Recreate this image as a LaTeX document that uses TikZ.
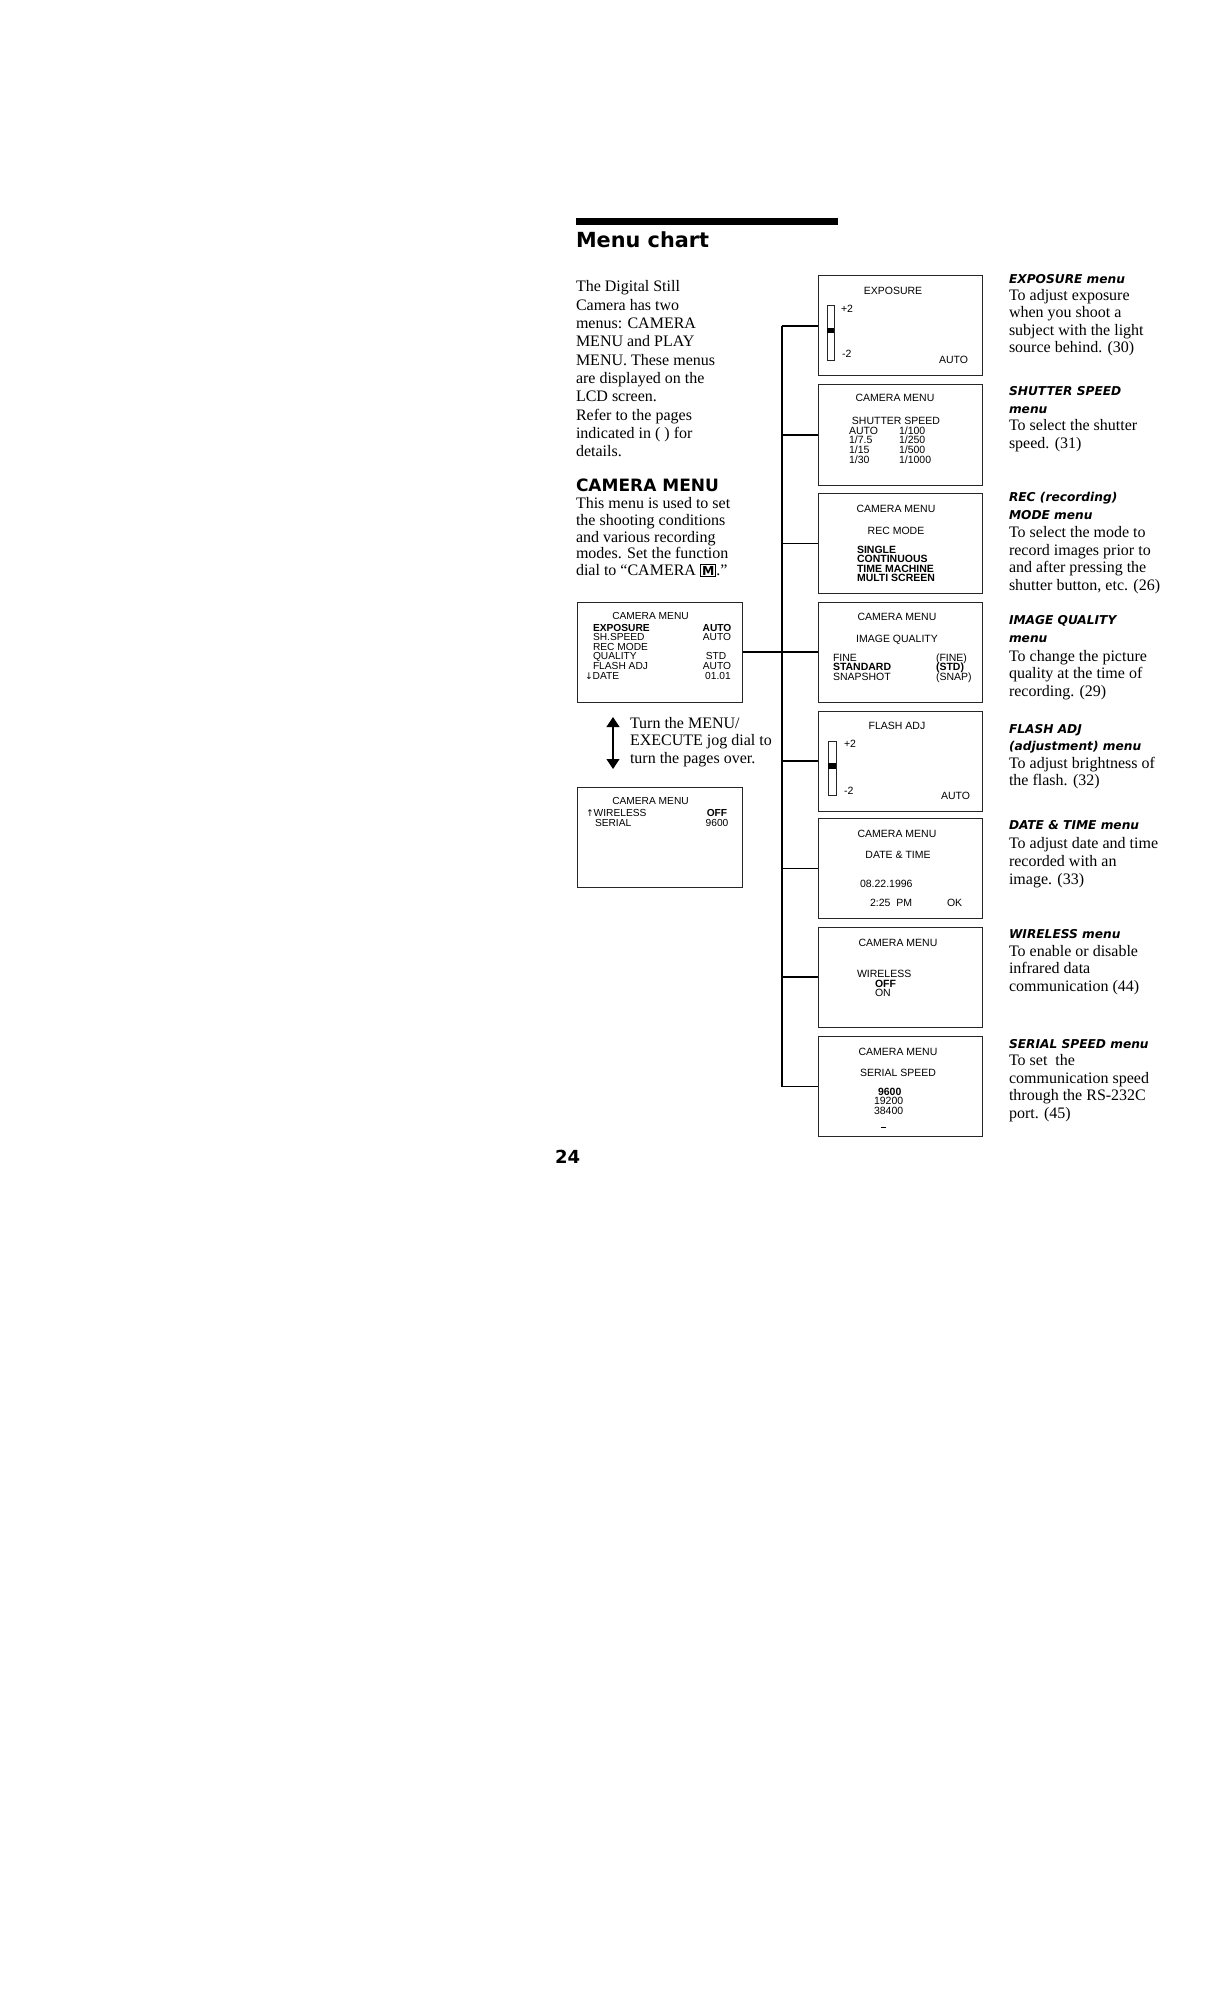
\documentclass[tikz,border=0pt]{standalone}
\usepackage{fontspec}
\setmainfont{Liberation Serif}
\setsansfont{Liberation Sans}
\newfontfamily\hdfont{DejaVu Sans}
\usetikzlibrary{arrows.meta}
\newcommand\scrfont{\sffamily\fontsize{5.25}{6}\selectfont}
\newcommand\scrfontL{\sffamily\fontsize{5.1}{6}\selectfont}
\newcommand\bodyfont{\rmfamily\fontsize{8}{9}\selectfont}
\newcommand\rhfont{\hdfont\bfseries\itshape\fontsize{6.1}{7}\selectfont}
\tikzset{
  tx/.style={inner sep=0pt, outer sep=0pt, anchor=base west},
  tc/.style={inner sep=0pt, outer sep=0pt, anchor=base},
  te/.style={inner sep=0pt, outer sep=0pt, anchor=base east},
  body/.style={tx, font=\bodyfont},
  rhead/.style={tx, font=\rhfont},
  scrR/.style={font=\scrfont},
  scrL/.style={font=\scrfontL},
  screenR/.style={draw=black!85, line width=0.5pt, minimum width=82pt, minimum height=50pt, inner sep=0pt},
  screenL/.style={draw=black!85, line width=0.5pt, minimum width=82.5pt, minimum height=50pt, inner sep=0pt},
  tree/.style={line width=0.7pt, draw=black},
  slider/.style={draw=black!85, line width=0.45pt},
}
\begin{document}
\begin{tikzpicture}[x=0.5pt,y=-0.5pt]
\path[fill=white] (0,0) rectangle (1224,2016);
\useasboundingbox (0,0) rectangle (1224,2016);

% title
\fill[black] (576,218) rectangle (838,225);
\node[tx, font=\hdfont\bfseries\fontsize{10.4}{12}\selectfont] (title) at (576,248) {Menu chart};

% intro
\foreach \t [count=\i from 0] in {{The Digital Still},{Camera has two},{menus: CAMERA},{MENU and PLAY},{MENU. These menus},{are displayed on the},{LCD screen.},{Refer to the pages},{indicated in ( ) for},{details.}}
  \node[body] (intro\i) at (576,292+\i*18.3) {\t};

% camera menu heading
\node[tx, font=\hdfont\bfseries\fontsize{8.5}{10}\selectfont] (cmhead) at (576,491) {CAMERA MENU};
\foreach \t [count=\i from 0] in {{This menu is used to set},{the shooting conditions},{and various recording},{modes. Set the function}}
  \node[body] (cmp\i) at (576,509+\i*16.5) {\t};
\node[body] (cmp4) at (576,575) {dial to ``CAMERA \mbox{\fboxsep=0.5pt\fboxrule=0.5pt\fbox{\hdfont\bfseries\fontsize{6.2}{7}\selectfont M}}.''};

% left screen 1
\node[screenL] (lb1) at (659.5,652) {};
\node[tc, scrL] (lb1t) at (650.5,619.3) {CAMERA MENU};
\node[tx, scrL] (lb1a) at (593,631) {\bfseries EXPOSURE};
\node[tx, scrL] (lb1b) at (593,640.6) {SH.SPEED};
\node[tx, scrL] (lb1c) at (593,650.2) {REC MODE};
\node[tx, scrL] (lb1d) at (593,659.8) {QUALITY};
\node[tx, scrL] (lb1e) at (593,669.4) {FLASH ADJ};
\node[tx, scrL] (lb1f) at (585,679) {{\hdfont\fontsize{4.6}{6}\selectfont ↓}DATE};
\node[tc, scrL] (lb1va) at (717,631) {\bfseries AUTO};
\node[tc, scrL] (lb1vb) at (717,640.6) {AUTO};
\node[tc, scrL] (lb1vd) at (716,659.8) {STD};
\node[tc, scrL] (lb1ve) at (717,669.4) {AUTO};
\node[tc, scrL] (lb1vf) at (718,679) {01.01};

% page-turn arrow
\coordinate (arT) at (613,717);
\coordinate (arB) at (613,769);
\draw[line width=0.6pt, {Triangle[width=6.5pt,length=5pt]}-{Triangle[width=6.5pt,length=5pt]}] (arT) -- (arB);
\node[body] (turn0) at (630,728) {Turn the MENU/};
\node[body] (turn1) at (630,745.5) {EXECUTE jog dial to};
\node[body] (turn2) at (630,763) {turn the pages over.};

% left screen 2
\node[screenL] (lb2) at (659.5,837) {};
\node[tc, scrL] (lb2t) at (650.5,804) {CAMERA MENU};
\node[tx, scrL] (lb2a) at (586,816.7) {{\hdfont\fontsize{4.6}{6}\selectfont ↑}WIRELESS};
\node[tx, scrL] (lb2b) at (595,826.3) {SERIAL};
\node[tc, scrL] (lb2va) at (717,816.7) {\bfseries OFF};
\node[tc, scrL] (lb2vb) at (717,826.3) {9600};

% right screens
\node[screenR] (rb1) at (900,326) {};
\node[screenR] (rb2) at (900,435) {};
\node[screenR] (rb3) at (900,543.5) {};
\node[screenR] (rb4) at (900,652) {};
\node[screenR] (rb5) at (900,761) {};
\node[screenR] (rb6) at (900,868.5) {};
\node[screenR] (rb7) at (900,977) {};
\node[screenR] (rb8) at (900,1086.5) {};

% tree
\coordinate (ttop) at (782,326);
\coordinate (tbot) at (782,1086.5);
\draw[tree] (ttop) -- (tbot);
\foreach \k in {1,...,8} \draw[tree] (rb\k.west) -- (rb\k.west -| ttop);
\draw[tree] (lb1.east) -- (lb1.east -| ttop);

% rb1 exposure
\node[tc, scrR] (rb1t) at (893,295) {EXPOSURE};
\draw[slider] (827,305) rectangle (834,360);
\fill[black] (827,328) rectangle (834,333);
\node[tx, scrR] (rb1p) at (841,312.3) {+2};
\node[tx, scrR] (rb1m) at (842,357.7) {-2};
\node[te, scrR] (rb1a) at (968,364) {AUTO};

% rb2 shutter speed
\node[tc, scrR] (rb2t) at (895,401.7) {CAMERA MENU};
\node[tc, scrR] (rb2s) at (896,425) {SHUTTER SPEED};
\foreach \a/\b [count=\i from 0] in {AUTO/1\slash100, 1\slash7.5/1\slash250, 1\slash15/1\slash500, 1\slash30/1\slash1000}{
  \node[tx, scrR] (rb2l\i) at (849,434.3+\i*9.67) {\a};
  \node[tx, scrR] (rb2r\i) at (899,434.3+\i*9.67) {\b};
}

% rb3 rec mode
\node[tc, scrR] (rb3t) at (896,512.3) {CAMERA MENU};
\node[tc, scrR] (rb3s) at (896,534) {REC MODE};
\foreach \t [count=\i from 0] in {SINGLE,CONTINUOUS,TIME MACHINE,MULTI SCREEN}
  \node[tx, scrR] (rb3i\i) at (857,553.3+\i*9.5) {\bfseries \t};

% rb4 image quality
\node[tc, scrR] (rb4t) at (897,620) {CAMERA MENU};
\node[tc, scrR] (rb4s) at (897,642.3) {IMAGE QUALITY};
\node[tx, scrR] (rb4a) at (833,661.7) {FINE};
\node[tx, scrR] (rb4b) at (833,670.9) {\bfseries STANDARD};
\node[tx, scrR] (rb4c) at (833,680) {SNAPSHOT};
\node[tx, scrR] (rb4d) at (936,661.7) {(FINE)};
\node[tx, scrR] (rb4e) at (936,670.9) {\bfseries (STD)};
\node[tx, scrR] (rb4f) at (936,680) {(SNAP)};

% rb5 flash adj
\node[tc, scrR] (rb5t) at (897,729.3) {FLASH ADJ};
\draw[slider] (828,741) rectangle (836,795);
\fill[black] (828,763) rectangle (836,769);
\node[tx, scrR] (rb5p) at (844,747.3) {+2};
\node[tx, scrR] (rb5m) at (844,794) {-2};
\node[te, scrR] (rb5a) at (970,799.3) {AUTO};

% rb6 date & time
\node[tc, scrR] (rb6t) at (897,837.3) {CAMERA MENU};
\node[tc, scrR] (rb6s) at (898,858.3) {DATE \& TIME};
\node[tx, scrR] (rb6d) at (860,887.3) {08.22.1996};
\node[tx, scrR] (rb6h) at (870,906.7) {2:25\hspace{3pt}PM};
\node[tx, scrR] (rb6o) at (947,906.7) {OK};

% rb7 wireless
\node[tc, scrR] (rb7t) at (898,946.7) {CAMERA MENU};
\node[tx, scrR] (rb7w) at (857,977.7) {WIRELESS};
\node[tx, scrR] (rb7a) at (875,987.3) {\bfseries OFF};
\node[tx, scrR] (rb7b) at (875,996.5) {ON};

% rb8 serial speed
\node[tc, scrR] (rb8t) at (898,1055) {CAMERA MENU};
\node[tc, scrR] (rb8s) at (898,1076) {SERIAL SPEED};
\node[tx, scrR] (rb8a) at (878,1095) {\bfseries 9600};
\node[tx, scrR] (rb8b) at (874,1104.7) {19200};
\node[tx, scrR] (rb8c) at (874,1114.3) {38400};
\draw[line width=0.6pt] (881,1127.5) -- (886,1127.5);

% right descriptions
\node[rhead] (d1h) at (1009,283.5) {EXPOSURE menu};
\foreach \t [count=\i from 0] in {{To adjust exposure},{when you shoot a},{subject with the light},{source behind. (30)}}
  \node[body] (d1b\i) at (1009,300.5+\i*17.3) {\t};

\node[rhead] (d2h) at (1009,396) {SHUTTER SPEED};
\node[rhead] (d2h2) at (1009,413.5) {menu};
\foreach \t [count=\i from 0] in {{To select the shutter},{speed. (31)}}
  \node[body] (d2b\i) at (1009,431+\i*17.3) {\t};

\node[rhead] (d3h) at (1009,502) {REC (recording)};
\node[rhead] (d3h2) at (1009,519.5) {MODE menu};
\foreach \t [count=\i from 0] in {{To select the mode to},{record images prior to},{and after pressing the},{shutter button, etc. (26)}}
  \node[body] (d3b\i) at (1009,537.5+\i*17.7) {\t};

\node[rhead] (d4h) at (1009,624.5) {IMAGE QUALITY};
\node[rhead] (d4h2) at (1009,642.8) {menu};
\foreach \t [count=\i from 0] in {{To change the picture},{quality at the time of},{recording. (29)}}
  \node[body] (d4b\i) at (1009,661+\i*17.8) {\t};

\node[rhead] (d5h) at (1009,733) {FLASH ADJ};
\node[rhead] (d5h2) at (1009,750.5) {(adjustment) menu};
\foreach \t [count=\i from 0] in {{To adjust brightness of},{the flash. (32)}}
  \node[body] (d5b\i) at (1009,768+\i*17.5) {\t};

\node[rhead] (d6h) at (1009,829.5) {DATE \& TIME menu};
\foreach \t [count=\i from 0] in {{To adjust date and time},{recorded with an},{image. (33)}}
  \node[body] (d6b\i) at (1009,848+\i*18) {\t};

\node[rhead] (d7h) at (1009,938) {WIRELESS menu};
\foreach \t [count=\i from 0] in {{To enable or disable},{infrared data},{communication (44)}}
  \node[body] (d7b\i) at (1009,956+\i*17.5) {\t};

\node[rhead] (d8h) at (1009,1048) {SERIAL SPEED menu};
\foreach \t [count=\i from 0] in {{To set\ \ the},{communication speed},{through the RS-232C},{port. (45)}}
  \node[body] (d8b\i) at (1009,1065.5+\i*17.5) {\t};

% page number
\node[tx, font=\hdfont\bfseries\fontsize{9}{10}\selectfont] (pnum) at (555,1163) {24};
\end{tikzpicture}
\end{document}
